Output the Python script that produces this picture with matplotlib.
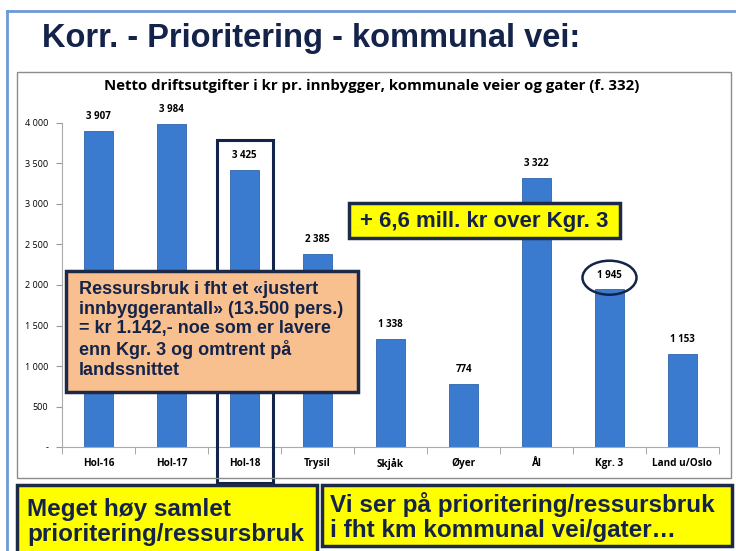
import matplotlib.pyplot as plt
from matplotlib.patches import Rectangle, Ellipse

# Data
categories = ['Hol-16', 'Hol-17', 'Hol-18', 'Trysil', 'Skjåk', 'Øyer', 'Ål', 'Kgr. 3', 'Land u/Oslo']
values = [3907, 3984, 3425, 2385, 1338, 774, 3322, 1945, 1153]
yticks = [0, 500, 1000, 1500, 2000, 2500, 3000, 3500, 4000]
ytick_labels = ['-', '500', '1 000', '1 500', '2 000', '2 500', '3 000', '3 500', '4 000']

plt.rcParams['font.family'] = ['Open Sans', 'DejaVu Sans']
arial = 'Liberation Sans'

W, H = 736, 551
fig = plt.figure(figsize=(W / 100, H / 100), dpi=100)
fig.patch.set_facecolor('white')


def fx(px):
    return px / W


def fy(py):
    return 1 - py / H


def box(x0, y0, x1, y1, fc, ec='#1c2a48', lw=2.5):
    fig.patches.append(Rectangle((fx(x0), fy(y1)), fx(x1) - fx(x0), fy(y0) - fy(y1),
                                 transform=fig.transFigure, facecolor=fc, edgecolor=ec,
                                 lw=lw, zorder=5))


navy = '#14234a'

# slide frame lines
fig.add_artist(plt.Line2D([fx(7), fx(736)], [fy(11), fy(11)], transform=fig.transFigure,
                          color='#6b9ad6', lw=2))
fig.add_artist(plt.Line2D([fx(7), fx(7)], [fy(11), fy(551)], transform=fig.transFigure,
                          color='#6b9ad6', lw=2))

fig.text(fx(42), fy(39), 'Korr. - Prioritering - kommunal vei:', family=arial,
         fontweight='bold', fontsize=23.5, color=navy, va='center', ha='left')

# chart border
box(17, 72, 731, 478, 'none', ec='#8c8c8c', lw=1)

fig.text(fx(372), fy(86), 'Netto driftsutgifter i kr pr. innbygger, kommunale veier og gater (f. 332)',
         fontsize=10.8, fontweight='bold', ha='center', va='center', color='black')

ax = fig.add_axes([fx(62), fy(447), fx(719) - fx(62), fy(123) - fy(447)])
x = range(len(categories))
ax.bar(x, values, width=0.41, color='#3a7bd0', edgecolor='#2f64ad', lw=0.6, zorder=2)
ax.set_xlim(-0.5, len(categories) - 0.5)
ax.set_ylim(0, 4000)
ax.set_yticks(yticks)
ax.set_yticklabels(ytick_labels, fontsize=6.5)
ax.set_xticks(list(x))
ax.set_xticklabels(categories, fontsize=7.2, fontweight='bold')
ax.set_xticks([i + 0.5 for i in range(-1, len(categories))], minor=True)
ax.tick_params(axis='x', which='major', length=0, pad=8)
ax.tick_params(axis='x', which='minor', length=5, color='#999999', direction='out')
ax.tick_params(axis='y', length=4, color='#999999', pad=6)
for s in ['top', 'right']:
    ax.spines[s].set_visible(False)
for s in ['left', 'bottom']:
    ax.spines[s].set_color('#aaaaaa')
ax.patch.set_alpha(0)

for i, v in enumerate(values):
    ax.text(i, v + 110, f'{v:,}'.replace(',', ' '), ha='center', va='bottom',
            fontsize=7, fontweight='bold', clip_on=False)

# highlight Hol-18 and Kgr. 3
ax.add_patch(Rectangle((2 - 0.37, -440), 0.76, 4230, fill=False, ec=navy, lw=2.2,
                       clip_on=False, zorder=4))
ax.add_patch(Ellipse((7, 2090), 0.74, 420, fill=False, ec=navy, lw=1.8, clip_on=False, zorder=4))

# text boxes
box(66, 271, 358, 392, '#f9c08f')
fig.text(fx(79), fy(330), 'Ressursbruk i fht et «justert\ninnbyggerantall» (13.500 pers.)\n'
         '= kr 1.142,- noe som er lavere\nenn Kgr. 3 og omtrent på\nlandssnittet',
         family=arial, fontweight='bold', fontsize=13, color=navy, va='center', ha='left',
         linespacing=1.2, zorder=6)

box(349, 203, 620, 238, '#ffff00')
fig.text(fx(484), fy(221), '+ 6,6 mill. kr over Kgr. 3', family=arial, fontweight='bold',
         fontsize=16, color=navy, ha='center', va='center', zorder=6)

box(17, 485, 317, 560, '#ffff00')
fig.text(fx(27), fy(522), 'Meget høy samlet\nprioritering/ressursbruk', family=arial,
         fontweight='bold', fontsize=17.5, color=navy, ha='left', va='center',
         linespacing=1.15, zorder=6)

box(322, 485, 732, 546, '#ffff00')
fig.text(fx(330), fy(517), 'Vi ser på prioritering/ressursbruk\ni fht km kommunal vei/gater…',
         family=arial, fontweight='bold', fontsize=17.5, color=navy, ha='left', va='center',
         linespacing=1.15, zorder=6)

fig.savefig('out.png', dpi=100)
